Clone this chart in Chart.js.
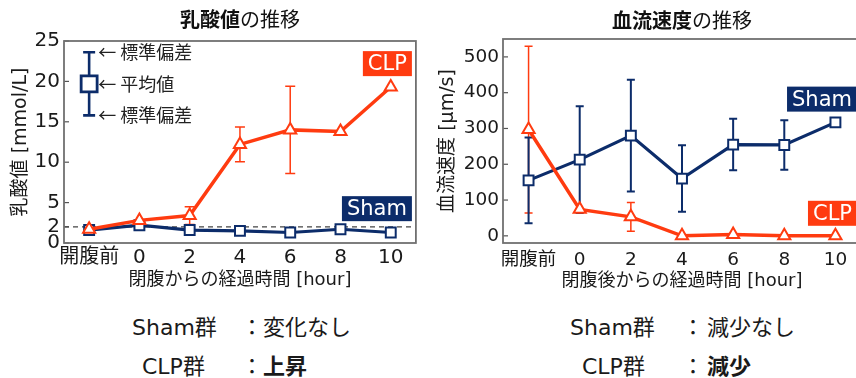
<!DOCTYPE html>
<html>
<head>
<meta charset="utf-8">
<script src="https://cdn.jsdelivr.net/npm/chart.js@4/dist/chart.umd.min.js"></script>
<style>
  html, body { margin: 0; padding: 0; background: #fff; overflow: hidden; width: 856px; height: 378px; }
  body { position: relative; font-family: "DejaVu Sans", "Noto Sans CJK JP", sans-serif; color: #1a1a1a; }
  .wrap { position: absolute; top: 0; height: 300px; }
  #w1 { left: 0; width: 430px; }
  #w2 { left: 430px; width: 440px; }
  .note { position: absolute; font-size: 22px; line-height: 22px; white-space: nowrap; }
  .note b { font-weight: bold; }
</style>
</head>
<body>
<div class="wrap" id="w1"><canvas id="lactate" width="430" height="300"></canvas></div>
<div class="wrap" id="w2"><canvas id="flow" width="440" height="300"></canvas></div>

<span class="note" style="left:132px;top:317px">Sham群</span>
<span class="note" style="left:241px;top:317px">：</span>
<span class="note" style="left:263px;top:317px">変化なし</span>
<span class="note" style="left:142px;top:356px">CLP群</span>
<span class="note" style="left:241px;top:356px">：</span>
<span class="note" style="left:263px;top:356px"><b>上昇</b></span>

<span class="note" style="left:570px;top:317px">Sham群</span>
<span class="note" style="left:682px;top:317px">：</span>
<span class="note" style="left:707px;top:317px">減少なし</span>
<span class="note" style="left:582px;top:356px">CLP群</span>
<span class="note" style="left:682px;top:356px">：</span>
<span class="note" style="left:707px;top:356px"><b>減少</b></span>

<script>
// ---- data ----
const categories = ['開腹前', '0', '2', '4', '6', '8', '10'];

// lactate [mmol/L]
const lactateSham   = [1.6, 2.2, 1.6, 1.5, 1.3, 1.7, 1.3];
const lactateClp    = [1.7, 2.8, 3.4, 12.2, 14.0, 13.8, 19.3];
const lactateClpSd  = [null, null, 1.1, 2.15, 5.4, null, null];
const lactateTicks  = [0, 2, 5, 10, 15, 20, 25];
const lactateNormal = 2;

// key: mean with SD whiskers
const keyMean = [19.7, null, null, null, null, null, null];
const keySd   = [3.9, null, null, null, null, null, null];
const keyCaptions = ['← 標準偏差', '← 平均値', '← 標準偏差'];

// blood flow velocity [µm/s]
const flowSham   = [155, 213, 280, 160, 255, 254, 317];
const flowShamSd = [120, 149, 156, 93, 72, 69, null];
const flowClp    = [297, 74, 53, 0, 4, 0, 0];
const flowClpSd  = [233, null, 40, null, null, null, null];
const flowTicks  = [0, 100, 200, 300, 400, 500];

// ---- styling ----
const NAVY = '#0c2c6a';
const RED = '#ff3b10';
const FONT = '"DejaVu Sans", "Noto Sans CJK JP", sans-serif';
const CJK = '"Noto Sans CJK JP", sans-serif';

// vertical SD whiskers with caps, drawn under the markers
const errorBars = {
  id: 'errorBars',
  beforeDatasetsDraw(chart) {
    const { ctx } = chart;
    const y = chart.scales.y;
    chart.data.datasets.forEach((ds, i) => {
      if (!ds.sd) return;
      const meta = chart.getDatasetMeta(i);
      ctx.save();
      ctx.strokeStyle = ds.borderColor;
      ctx.lineWidth = ds.errWidth;
      meta.data.forEach((pt, j) => {
        const v = ds.data[j], e = ds.sd[j];
        if (v == null || e == null) return;
        const yt = y.getPixelForValue(v + e);
        const yb = y.getPixelForValue(v - e);
        const x = pt.x, c = ds.capWidth / 2;
        ctx.beginPath();
        ctx.moveTo(x, yt); ctx.lineTo(x, yb);
        ctx.moveTo(x - c, yt); ctx.lineTo(x + c, yt);
        ctx.moveTo(x - c, yb); ctx.lineTo(x + c, yb);
        ctx.stroke();
      });
      ctx.restore();
    });
  }
};

// plot frame, inward tick marks and optional reference line
const frame = {
  id: 'frame',
  beforeDatasetsDraw(chart, args, opts) {
    const { ctx, chartArea: a } = chart;
    const y = chart.scales.y;
    ctx.save();
    ctx.strokeStyle = '#555';
    ctx.lineWidth = 1.2;
    y.ticks.forEach(t => {
      const py = y.getPixelForValue(t.value);
      ctx.beginPath(); ctx.moveTo(a.left, py); ctx.lineTo(a.left + 5, py); ctx.stroke();
    });
    if (opts.refLine != null) {
      const py = y.getPixelForValue(opts.refLine);
      ctx.setLineDash([5, 4]);
      ctx.strokeStyle = '#444';
      ctx.lineWidth = 1.3;
      ctx.beginPath(); ctx.moveTo(a.left, py); ctx.lineTo(a.right, py); ctx.stroke();
      ctx.setLineDash([]);
    }
    ctx.strokeStyle = '#707070';
    ctx.lineWidth = 1.8;
    ctx.strokeRect(a.left, a.top, a.right - a.left, a.bottom - a.top);
    ctx.restore();
  }
};

// heading, group tags and key captions
const labels = {
  id: 'labels',
  afterDatasetsDraw(chart, args, opts) {
    const { ctx, chartArea: a } = chart;
    const y = chart.scales.y;
    ctx.save();
    ctx.textBaseline = 'middle';

    const cx = (a.left + a.right) / 2;
    const fb = `bold ${opts.titleSize}px ${FONT}`;
    const fr = `${opts.titleSize}px ${FONT}`;
    ctx.font = fb; const w1 = ctx.measureText(opts.titleBold).width;
    ctx.font = fr; const w2 = ctx.measureText(opts.titleRest).width;
    const x0 = cx - (w1 + w2) / 2;
    ctx.fillStyle = '#111';
    ctx.textAlign = 'left';
    ctx.font = fb; ctx.fillText(opts.titleBold, x0, opts.titleY);
    ctx.font = fr; ctx.fillText(opts.titleRest, x0 + w1, opts.titleY);

    ctx.font = `${opts.tagSize}px ${FONT}`;
    opts.tags.forEach(t => {
      const tw = ctx.measureText(t.text).width;
      const bw = tw + 10, bh = 25;
      const py = y.getPixelForValue(t.value);
      const right = a.right - 4;
      ctx.fillStyle = t.color;
      ctx.fillRect(right - bw, py - bh / 2, bw, bh);
      ctx.fillStyle = '#fff';
      ctx.textAlign = 'center';
      ctx.fillText(t.text, right - bw / 2, py + 1);
    });

    chart.data.datasets.forEach((ds, i) => {
      if (!ds.key) return;
      const pt = chart.getDatasetMeta(i).data[0];
      const m = ds.data[0], s = ds.sd[0];
      const vals = [m + s, m, m - s];
      ctx.font = `18px ${CJK}`;
      ctx.fillStyle = '#222';
      ctx.textAlign = 'left';
      vals.forEach((v, k) => ctx.fillText(keyCaptions[k], pt.x + 9, y.getPixelForValue(v)));
    });
    ctx.restore();
  }
};

function lineSet(label, data, sd, color, style, extra) {
  return Object.assign({
    label, data, sd,
    borderColor: color,
    backgroundColor: '#fff',
    pointBackgroundColor: '#fff',
    pointBorderColor: color,
    pointStyle: style,
    pointRadius: 7,
    pointBorderWidth: 2,
    borderWidth: 3.2,
    tension: 0,
    clip: false
  }, extra);
}

function baseOptions(cfg) {
  return {
    responsive: false,
    devicePixelRatio: 1,
    animation: false,
    events: [],
    layout: { padding: { left: 0, top: cfg.top, right: cfg.right, bottom: 0 } },
    plugins: {
      legend: { display: false },
      tooltip: { enabled: false },
      title: { display: false },
      frame: { refLine: cfg.refLine },
      labels: cfg.labels
    },
    scales: {
      x: {
        type: 'category',
        offset: true,
        grid: { display: false, drawTicks: false },
        border: { display: false },
        ticks: { color: '#1a1a1a', font: { family: FONT, size: cfg.tickSize }, padding: cfg.xTickPad, maxRotation: 0, autoSkip: false },
        title: { display: true, text: cfg.xTitle, color: '#1a1a1a', font: { family: FONT, size: 18 }, padding: { top: 0, bottom: cfg.xTitlePad } },
        afterFit: s => { s.height = 57; }
      },
      y: {
        min: cfg.min, max: cfg.max,
        grid: { display: false, drawTicks: false },
        border: { display: false },
        ticks: { color: '#1a1a1a', font: { family: FONT, size: cfg.tickSize }, padding: cfg.yTickPad },
        afterBuildTicks: s => { s.ticks = cfg.ticks.map(v => ({ value: v })); },
        title: { display: true, text: cfg.yTitle, color: '#1a1a1a', font: { family: FONT, size: 19 }, padding: { top: cfg.yTitlePad, bottom: 0 } },
        afterFit: s => { s.width = cfg.yWidth; }
      }
    }
  };
}

// lactate chart
new Chart(document.getElementById('lactate'), {
  type: 'line',
  data: {
    labels: categories,
    datasets: [
      lineSet('CLP', lactateClp, lactateClpSd, RED, 'triangle', { errWidth: 1.5, capWidth: 10, borderWidth: 3.5 }),
      lineSet('Sham', lactateSham, null, NAVY, 'rect', {}),
      lineSet('key', keyMean, keySd, NAVY, 'rect', { key: true, showLine: false, pointRadius: 11.3, pointBorderWidth: 2.8, errWidth: 2.6, capWidth: 12 })
    ]
  },
  options: baseOptions({
    top: 41, right: 6, min: 0, max: 25, ticks: lactateTicks, refLine: lactateNormal,
    tickSize: 20, xTickPad: 3, yTickPad: 4, yWidth: 64, xTitlePad: 9, yTitlePad: 10.1,
    xTitle: '閉腹からの経過時間 [hour]', yTitle: '乳酸値 [mmol/L]',
    labels: {
      titleBold: '乳酸値', titleRest: 'の推移', titleSize: 20, titleY: 22, tagSize: 21,
      tags: [{ text: 'CLP', color: RED, value: 22.2 }, { text: 'Sham', color: NAVY, value: 4.25 }]
    }
  }),
  plugins: [frame, errorBars, labels]
});

// blood flow chart
new Chart(document.getElementById('flow'), {
  type: 'line',
  data: {
    labels: categories,
    datasets: [
      lineSet('CLP', flowClp, flowClpSd, RED, 'triangle', { errWidth: 1.5, capWidth: 8, borderWidth: 3.5 }),
      lineSet('Sham', flowSham, flowShamSd, NAVY, 'rect', { errWidth: 2, capWidth: 8 })
    ]
  },
  options: baseOptions({
    top: 39, right: 7, min: -20, max: 550, ticks: flowTicks, refLine: null,
    tickSize: 18.5, xTickPad: 6, yTickPad: 4, yWidth: 73, xTitlePad: 7.5, yTitlePad: 6.6,
    xTitle: '閉腹後からの経過時間 [hour]', yTitle: '血流速度 [μm/s]',
    labels: {
      titleBold: '血流速度', titleRest: 'の推移', titleSize: 20, titleY: 23, tagSize: 21,
      tags: [{ text: 'Sham', color: NAVY, value: 382 }, { text: 'CLP', color: RED, value: 63 }]
    }
  }),
  plugins: [frame, errorBars, labels]
});
</script>
</body>
</html>
